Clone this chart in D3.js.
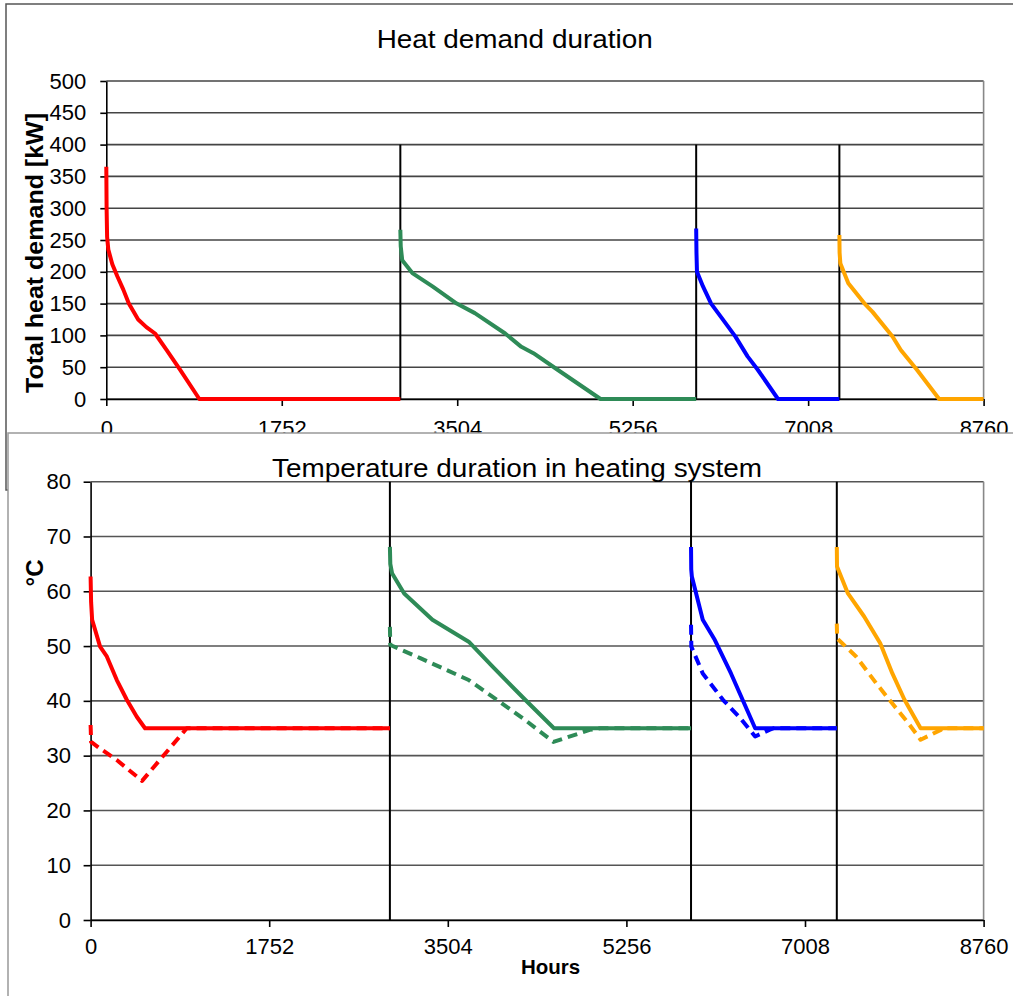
<!DOCTYPE html>
<html><head><meta charset="utf-8">
<script src="https://cdn.jsdelivr.net/npm/d3@7"></script>
<style>body{margin:0;background:#fff} text{font-family:"Liberation Sans",Arial,sans-serif}</style>
</head><body><svg id="c" width="1013" height="996"></svg>
<script>
// ---------- data ----------
const hourTicks = [0, 1752, 3504, 5256, 7008, 8760];
const heatTicks = [0, 50, 100, 150, 200, 250, 300, 350, 400, 450, 500];
const tempTicks = [0, 10, 20, 30, 40, 50, 60, 70, 80];
const periodBreaks = [2936, 5890, 7320];

// heat demand duration [hours, kW]
const heatRed    = [[0,365],[3,300],[8,255],[20,235],[60,212],[110,193],[170,172],[225,150],[318,125],[400,113],[487,103],[603,77],[736,46],[929,0],[2936,0]];
const heatGreen  = [[2936,266],[2940,240],[2955,218],[3056,198],[3257,177],[3499,150],[3680,135],[3983,103],[4144,82],[4265,72],[4506,46],[4935,0],[5890,0]];
const heatBlue   = [[5890,268],[5893,230],[5898,200],[5958,177],[6039,150],[6161,124],[6282,98],[6403,67],[6505,46],[6707,0],[7320,0]];
const heatOrange = [[7320,258],[7322,230],[7330,213],[7409,182],[7571,150],[7651,137],[7852,98],[7933,77],[8094,46],[8316,0],[8760,0]];

// temperature duration [hours, °C] : supply (solid) and return (dashed)
const supplyRed    = [[0,62.7],[5,58],[15,54.8],[93,49.9],[159,48.1],[257,43.8],[355,40.2],[453,37.1],[534,35],[2936,35]];
const returnRed    = [[0,35.6],[5,32.5],[93,31.3],[257,29.2],[505,25.4],[943,35],[2936,35]];
const supplyGreen  = [[2936,68.1],[2940,65],[2957,63.3],[3076,59.6],[3353,54.8],[3709,50.8],[3946,46.2],[4263,40.2],[4545,35],[5890,35]];
const returnGreen  = [[2936,53.5],[2940,50.2],[3234,47.8],[3709,43.8],[3986,40.2],[4263,36.5],[4540,32.5],[4896,34.7],[5000,35],[5890,35]];
const supplyBlue   = [[5890,68.1],[5892,64],[5898,62.7],[6005,54.8],[6124,51.1],[6282,45],[6519,35],[7320,35]];
const returnBlue   = [[5890,53.9],[5893,49.9],[6005,45],[6203,40.2],[6361,37.1],[6519,33.5],[6658,34.7],[6700,35],[7320,35]];
const supplyOrange = [[7320,68.1],[7322,64.5],[7429,59.6],[7588,55.4],[7746,50.5],[7865,45],[7984,40.2],[8142,35],[8760,35]];
const returnOrange = [[7320,54.1],[7323,51.4],[7509,48.1],[7707,43.2],[7865,39.5],[8023,35.9],[8142,32.9],[8340,34.7],[8360,35],[8760,35]];

const colors = {red:"#ff0000", green:"#2e8b57", blue:"#0000ff", orange:"#ffa500"};

// ---------- drawing ----------
const svg = d3.select("#c");
svg.append("rect").attr("width",1013).attr("height",996).attr("fill","#fff");

function drawChart(cfg){
  const g = svg.append("g");
  const x = d3.scaleLinear().domain([0,8760]).range(cfg.xr);
  const y = d3.scaleLinear().domain([0,cfg.ymax]).range(cfg.yr);
  // gridlines
  g.append("g").selectAll("line").data(cfg.yTicks).join("line")
    .attr("x1",x(0)).attr("x2",x(8760)).attr("y1",d=>y(d)).attr("y2",d=>y(d))
    .attr("stroke",cfg.gridColor).attr("stroke-width",1.6);
  // right border of plot area
  g.append("line").attr("x1",x(8760)).attr("x2",x(8760)).attr("y1",y(0)).attr("y2",y(cfg.ymax))
    .attr("stroke","#888").attr("stroke-width",1.6);
  // period separators
  g.append("g").selectAll("line").data(periodBreaks).join("line")
    .attr("x1",d=>x(d)).attr("x2",d=>x(d)).attr("y1",y(0)).attr("y2",y(cfg.sepTop))
    .attr("stroke","#000").attr("stroke-width",2);
  // axes
  const ya = g.append("g").attr("transform",`translate(${x(0)},0)`)
    .call(d3.axisLeft(y).tickValues(cfg.yTicks).tickSize(cfg.tick).tickSizeOuter(0).tickPadding(cfg.yPad));
  const xa = g.append("g").attr("transform",`translate(0,${y(0)})`)
    .call(d3.axisBottom(x).tickValues(hourTicks).tickSize(7).tickSizeOuter(0).tickPadding(cfg.xPad).tickFormat(d3.format("d")));
  [ya,xa].forEach(a=>{
    a.attr("font-size",null).attr("font-family",null);
    a.selectAll("text").attr("font-size",22).attr("fill","#000");
    a.selectAll("line,path").attr("stroke","#000").attr("stroke-width",1.6);
  });
  // series
  const line = d3.line().x(d=>x(d[0])).y(d=>y(d[1]));
  cfg.series.forEach(s=>{
    g.append("path").datum(s.data).attr("d",line).attr("fill","none")
      .attr("stroke",s.color).attr("stroke-width",4).attr("stroke-linejoin","round")
      .attr("stroke-dasharray",s.dash||null);
  });
  return g;
}

// top panel frame
svg.append("rect").attr("x",6).attr("y",4).attr("width",1030).attr("height",486)
  .attr("fill","#fff").attr("stroke","#555").attr("stroke-width",1.5);

drawChart({
  xr:[106.3,983.6], yr:[399,81], ymax:500, yTicks:heatTicks, sepTop:400,
  tick:6, yPad:14, xPad:14, gridColor:"#444",
  series:[
    {data:heatRed,color:colors.red},
    {data:heatGreen,color:colors.green},
    {data:heatBlue,color:colors.blue},
    {data:heatOrange,color:colors.orange}
  ]
});
svg.append("text").attr("x",514.7).attr("y",47.7).attr("text-anchor","middle")
  .attr("font-size",26).attr("textLength",276).attr("lengthAdjust","spacingAndGlyphs")
  .text("Heat demand duration");
svg.append("text").attr("transform","translate(43,253) rotate(-90)").attr("text-anchor","middle")
  .attr("font-size",24).attr("font-weight","bold").attr("textLength",280).attr("lengthAdjust","spacingAndGlyphs")
  .text("Total heat demand [kW]");

// bottom panel frame (covers lower part of top panel)
svg.append("rect").attr("x",8).attr("y",433).attr("width",1030).attr("height",600)
  .attr("fill","#fff").attr("stroke","#999").attr("stroke-width",1.5);

drawChart({
  xr:[90.6,983.6], yr:[920,481.7], ymax:80, yTicks:tempTicks, sepTop:80,
  tick:7, yPad:12.5, xPad:11, gridColor:"#555",
  series:[
    {data:returnRed,color:colors.red,dash:"10,6"},
    {data:returnGreen,color:colors.green,dash:"10,6"},
    {data:returnBlue,color:colors.blue,dash:"10,6"},
    {data:returnOrange,color:colors.orange,dash:"10,6"},
    {data:supplyRed,color:colors.red},
    {data:supplyGreen,color:colors.green},
    {data:supplyBlue,color:colors.blue},
    {data:supplyOrange,color:colors.orange}
  ]
});
svg.append("text").attr("x",517).attr("y",476.7).attr("text-anchor","middle")
  .attr("font-size",26).attr("textLength",490).attr("lengthAdjust","spacingAndGlyphs")
  .text("Temperature duration in heating system");
svg.append("text").attr("transform","translate(42.7,573) rotate(-90)").attr("text-anchor","middle")
  .attr("font-size",24).attr("font-weight","bold").text("°C");
svg.append("text").attr("x",550.5).attr("y",974).attr("text-anchor","middle")
  .attr("font-size",20.5).attr("font-weight","bold").text("Hours");
</script></body></html>
